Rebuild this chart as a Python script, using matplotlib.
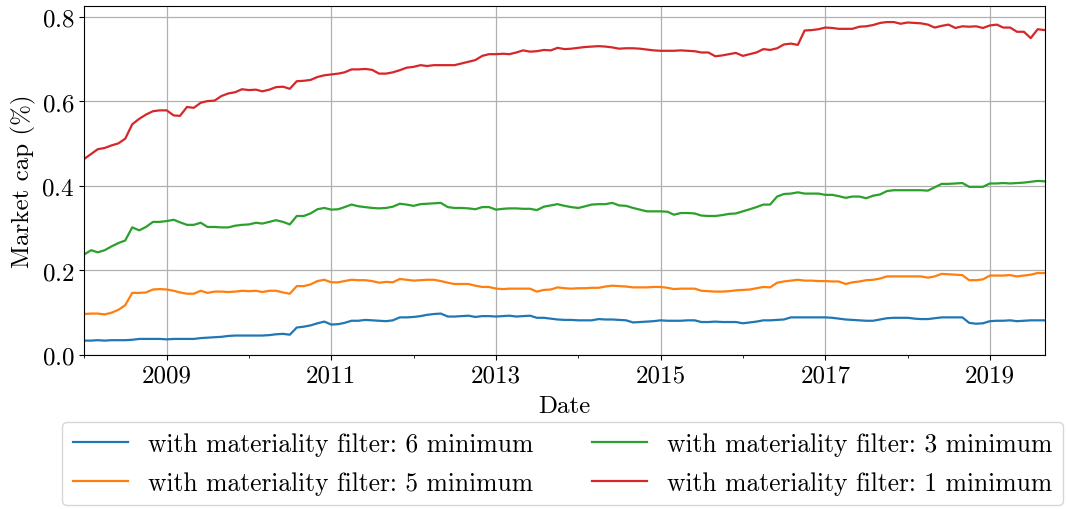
import numpy as np
import pandas as pd
import matplotlib
matplotlib.use("Agg")
import matplotlib.pyplot as plt
import matplotlib.dates as mdates

plt.rcParams['font.family'] = 'serif'
plt.rcParams['font.serif'] = ['cmr10']
plt.rcParams['mathtext.fontset'] = 'cm'
plt.rcParams['axes.formatter.use_mathtext'] = True
plt.rcParams['font.size'] = 18

dates = pd.date_range("2008-01-01", "2019-09-01", freq="MS")

filter_6 = [0.034, 0.034, 0.035, 0.034, 0.035, 0.035, 0.035, 0.036, 0.038, 0.038,
            0.038, 0.038, 0.037, 0.038, 0.038, 0.038, 0.038, 0.040, 0.041, 0.042,
            0.043, 0.045, 0.046, 0.046, 0.046, 0.046, 0.046, 0.047, 0.049, 0.050,
            0.048, 0.065, 0.067, 0.070, 0.075, 0.079, 0.072, 0.073, 0.076, 0.081,
            0.081, 0.083, 0.082, 0.081, 0.080, 0.082, 0.089, 0.089, 0.090, 0.092,
            0.095, 0.097, 0.098, 0.091, 0.091, 0.092, 0.093, 0.090, 0.092, 0.092,
            0.091, 0.092, 0.093, 0.091, 0.092, 0.093, 0.088, 0.088, 0.086, 0.084,
            0.083, 0.083, 0.082, 0.082, 0.082, 0.085, 0.084, 0.084, 0.083, 0.082,
            0.077, 0.078, 0.079, 0.080, 0.082, 0.081, 0.081, 0.081, 0.082, 0.082,
            0.078, 0.078, 0.079, 0.078, 0.078, 0.078, 0.075, 0.077, 0.079, 0.082,
            0.082, 0.083, 0.084, 0.089, 0.089, 0.089, 0.089, 0.089, 0.089, 0.088,
            0.086, 0.084, 0.083, 0.082, 0.081, 0.081, 0.084, 0.087, 0.088, 0.088,
            0.088, 0.086, 0.085, 0.085, 0.087, 0.089, 0.089, 0.089, 0.089, 0.076,
            0.074, 0.075, 0.080, 0.081, 0.081, 0.082, 0.080, 0.081, 0.082, 0.082,
            0.082]

filter_5 = [0.097, 0.098, 0.098, 0.096, 0.100, 0.107, 0.118, 0.147, 0.147, 0.148,
            0.155, 0.156, 0.155, 0.152, 0.148, 0.145, 0.145, 0.152, 0.147, 0.150,
            0.150, 0.149, 0.150, 0.152, 0.151, 0.152, 0.149, 0.152, 0.152, 0.148,
            0.145, 0.163, 0.163, 0.167, 0.175, 0.178, 0.172, 0.172, 0.175, 0.178,
            0.177, 0.177, 0.175, 0.171, 0.173, 0.172, 0.180, 0.178, 0.176, 0.177,
            0.178, 0.178, 0.175, 0.171, 0.168, 0.168, 0.168, 0.164, 0.161, 0.161,
            0.157, 0.156, 0.157, 0.157, 0.157, 0.157, 0.150, 0.154, 0.155, 0.160,
            0.158, 0.157, 0.158, 0.158, 0.159, 0.159, 0.162, 0.164, 0.163, 0.162,
            0.160, 0.160, 0.160, 0.161, 0.161, 0.159, 0.156, 0.157, 0.157, 0.157,
            0.152, 0.151, 0.150, 0.150, 0.151, 0.153, 0.154, 0.155, 0.158, 0.161,
            0.160, 0.171, 0.174, 0.176, 0.178, 0.176, 0.176, 0.175, 0.175, 0.174,
            0.174, 0.168, 0.172, 0.174, 0.177, 0.178, 0.181, 0.186, 0.186, 0.186,
            0.186, 0.186, 0.186, 0.183, 0.186, 0.192, 0.191, 0.190, 0.189, 0.177,
            0.177, 0.179, 0.188, 0.188, 0.188, 0.189, 0.186, 0.188, 0.190, 0.194,
            0.194]

filter_3 = [0.238, 0.248, 0.243, 0.248, 0.257, 0.265, 0.271, 0.302, 0.295, 0.303,
            0.315, 0.315, 0.317, 0.320, 0.314, 0.308, 0.308, 0.313, 0.303, 0.303,
            0.302, 0.302, 0.306, 0.308, 0.309, 0.313, 0.311, 0.315, 0.319, 0.315,
            0.309, 0.329, 0.329, 0.335, 0.345, 0.348, 0.344, 0.345, 0.350, 0.356,
            0.352, 0.350, 0.348, 0.347, 0.348, 0.351, 0.358, 0.356, 0.353, 0.357,
            0.358, 0.359, 0.360, 0.350, 0.348, 0.348, 0.347, 0.345, 0.350, 0.350,
            0.344, 0.346, 0.347, 0.347, 0.346, 0.346, 0.343, 0.351, 0.354, 0.357,
            0.353, 0.350, 0.348, 0.352, 0.356, 0.357, 0.357, 0.360, 0.354, 0.353,
            0.348, 0.344, 0.340, 0.340, 0.340, 0.339, 0.332, 0.336, 0.336, 0.335,
            0.330, 0.329, 0.329, 0.331, 0.334, 0.335, 0.340, 0.345, 0.350, 0.356,
            0.356, 0.375, 0.381, 0.382, 0.385, 0.382, 0.382, 0.382, 0.379, 0.379,
            0.376, 0.372, 0.375, 0.375, 0.371, 0.377, 0.380, 0.388, 0.390, 0.390,
            0.390, 0.390, 0.390, 0.389, 0.397, 0.405, 0.405, 0.406, 0.407, 0.398,
            0.398, 0.398, 0.406, 0.406, 0.407, 0.406, 0.407, 0.408, 0.410, 0.412,
            0.411]

filter_1 = [0.464, 0.476, 0.487, 0.490, 0.496, 0.501, 0.512, 0.546, 0.559, 0.569,
            0.577, 0.579, 0.579, 0.567, 0.566, 0.587, 0.585, 0.597, 0.601, 0.602,
            0.613, 0.619, 0.622, 0.629, 0.627, 0.628, 0.624, 0.628, 0.634, 0.635,
            0.630, 0.648, 0.649, 0.651, 0.658, 0.662, 0.664, 0.666, 0.669, 0.676,
            0.676, 0.677, 0.675, 0.666, 0.666, 0.669, 0.674, 0.680, 0.682, 0.686,
            0.684, 0.686, 0.686, 0.686, 0.686, 0.690, 0.694, 0.698, 0.708, 0.712,
            0.712, 0.713, 0.712, 0.716, 0.721, 0.718, 0.719, 0.722, 0.721, 0.727,
            0.724, 0.725, 0.727, 0.729, 0.730, 0.731, 0.730, 0.728, 0.725, 0.726,
            0.726, 0.725, 0.723, 0.721, 0.720, 0.720, 0.720, 0.721, 0.720, 0.719,
            0.716, 0.716, 0.707, 0.709, 0.712, 0.715, 0.708, 0.712, 0.716, 0.724,
            0.722, 0.726, 0.735, 0.737, 0.734, 0.768, 0.769, 0.771, 0.775, 0.774,
            0.772, 0.772, 0.772, 0.777, 0.778, 0.781, 0.786, 0.788, 0.788, 0.784,
            0.787, 0.786, 0.785, 0.782, 0.775, 0.779, 0.782, 0.774, 0.778, 0.777,
            0.778, 0.774, 0.780, 0.782, 0.775, 0.775, 0.765, 0.765, 0.750, 0.771,
            0.769]

series = [
    ("with materiality filter: 6 minimum", filter_6, "tab:blue"),
    ("with materiality filter: 5 minimum", filter_5, "tab:orange"),
    ("with materiality filter: 3 minimum", filter_3, "tab:green"),
    ("with materiality filter: 1 minimum", filter_1, "tab:red"),
]

fig = plt.figure(figsize=(10.66, 5.10), dpi=100)
ax = fig.add_axes([0.079, 0.302, 0.901, 0.684])

for label, vals, col in series:
    ax.plot(dates, vals, color=col, lw=1.6, label=label)

ax.set_xlim(dates[0], dates[-1])
ax.set_ylim(bottom=0)
ax.set_yticks([0.0, 0.2, 0.4, 0.6, 0.8])
ax.xaxis.set_minor_locator(mdates.YearLocator(1))
ax.xaxis.set_major_formatter(mdates.DateFormatter("%Y"))
# labels only on odd years
ax.set_xticks(pd.to_datetime([f"{y}-01-01" for y in range(2009, 2020, 2)]))
ax.grid(True, color="#b0b0b0", lw=0.9)
ax.set_xlabel("Date", labelpad=6)
ax.set_ylabel("Market cap (%)")

fig.legend(ncol=2, loc="upper left", bbox_to_anchor=(0.0465, 0.196),
           fontsize=18.4, columnspacing=2.3, handlelength=2.15,
           labelspacing=0.6)

fig.savefig("out.png", dpi=100)
